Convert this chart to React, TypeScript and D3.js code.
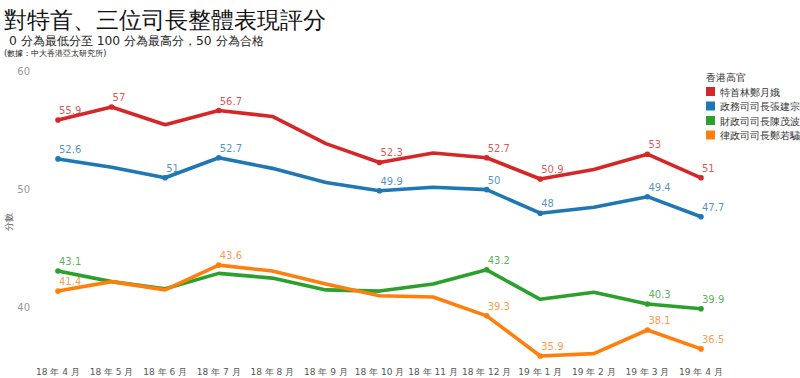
import React from "react";
import * as d3 from "d3";

const months = ["18 年 4 月","18 年 5 月","18 年 6 月","18 年 7 月","18 年 8 月","18 年 9 月","18 年 10 月","18 年 11 月","18 年 12 月","19 年 1 月","19 年 2 月","19 年 3 月","19 年 4 月"];
const seriesNames = ["特首林鄭月娥","政務司司長張建宗","財政司司長陳茂波","律政司司長鄭若驌"];
const colors = ["#d62728","#1f77b4","#2ca02c","#ff7f0e"];
const chiefExec = [55.9,57,55.5,56.7,56.2,53.9,52.3,53.1,52.7,50.9,51.7,53,51];
const chiefSec = [52.6,51.9,51,52.7,51.8,50.6,49.9,50.2,50,48,48.5,49.4,47.7];
const finSec = [43.1,42.2,41.6,42.9,42.5,41.5,41.4,42.0,43.2,40.7,41.3,40.3,39.9];
const justSec = [41.4,42.2,41.5,43.6,43.1,42.0,41.0,40.9,39.3,35.9,36.1,38.1,36.5];
const labeled = [
  [0,1,3,6,8,9,11,12],
  [0,2,3,6,8,9,11,12],
  [0,8,11,12],
  [0,3,8,9,11,12],
];
const yTicks = [40,50,60];
const title = "對特首、三位司長整體表現評分";
const subtitle = "0 分為最低分至 100 分為最高分，50 分為合格";
const source = "(數據：中大香港亞太研究所)";
const legendTitle = "香港高官";
const yTitle = "分數";

const FONT = "'DejaVu Sans', Verdana, sans-serif";

export default function App() {
  const data = [chiefExec, chiefSec, finSec, justSec];
  const x = d3.scalePoint<string>().domain(months).range([58, 701]);
  const y = d3.scaleLinear().domain([40, 60]).range([307.6, 71.6]);
  const line = d3.line<number>().x((_, i) => x(months[i])!).y((d) => y(d));
  return (
    <svg width={800} height={378} style={{ position: "absolute", left: 0, top: 0, background: "#fff" }} fontFamily={FONT}>
      <text x={4} y={28} fontSize={23} fill="#111">{title}</text>
      <text x={9} y={45} fontSize={12.3} fill="#222">{subtitle}</text>
      <text x={4} y={56} fontSize={8.2} fill="#222">{source}</text>
      {yTicks.map((t) => (
        <text key={t} x={30} y={y(t)} dy="0.35em" textAnchor="end" fontSize={10} fill="#999">{t}</text>
      ))}
      <text transform={`translate(12,222) rotate(-90)`} textAnchor="middle" fontSize={9} fill="#555">{yTitle}</text>
      {months.map((m) => (
        <text key={m} x={x(m)} y={375} textAnchor="middle" fontSize={9} fill="#555">{m}</text>
      ))}
      {data.map((s, k) => (
        <g key={k}>
          <path d={line(s) || ""} fill="none" stroke={colors[k]} strokeWidth={3.6} strokeLinejoin="round" strokeLinecap="round" />
          {labeled[k].map((i) => (
            <g key={i}>
              <circle cx={x(months[i])} cy={y(s[i])} r={2.8} fill={colors[k]} />
              <text x={x(months[i])! + 1} y={y(s[i]) - 6} fontSize={10} fill={colors[k]} fillOpacity={0.8}>{s[i]}</text>
            </g>
          ))}
        </g>
      ))}
      <text x={706} y={81} fontSize={10} fill="#333">{legendTitle}</text>
      {seriesNames.map((n, k) => (
        <g key={n} transform={`translate(706,${87 + k * 14.5})`}>
          <rect x={0} y={0} width={9} height={9} fill={colors[k]} />
          <text x={14} y={8.5} fontSize={10} fill="#333">{n}</text>
        </g>
      ))}
    </svg>
  );
}
